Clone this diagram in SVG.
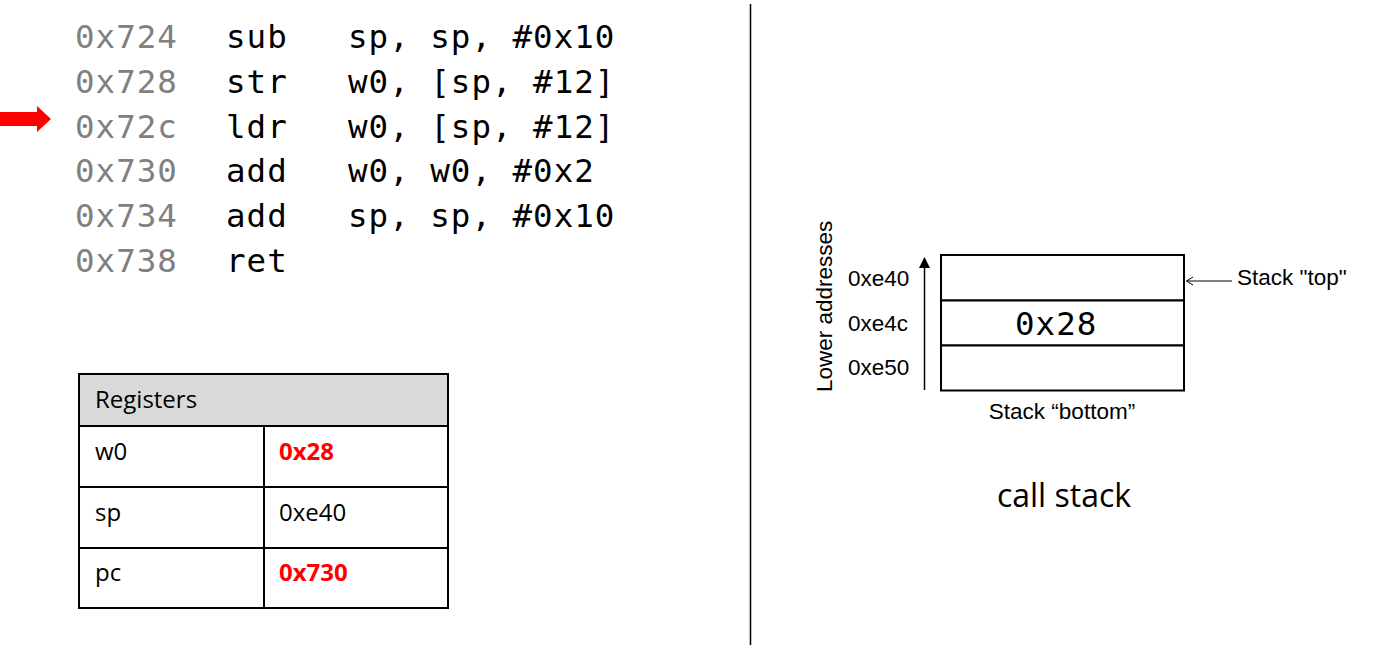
<svg xmlns="http://www.w3.org/2000/svg" width="1385" height="646" viewBox="0 0 1385 646">
<style>
.code{font-family:"DejaVu Sans Mono","Liberation Mono",monospace;font-size:32.5px;letter-spacing:1px;fill:#000}
.addr{fill:#808080}
.tbl{font-family:"Open Sans","Liberation Sans",sans-serif;font-size:24px;fill:#000}
.red{fill:#ff0000;font-weight:bold}
.ar{font-family:"Liberation Sans",Arial,sans-serif;font-size:22.5px;fill:#000}
.cell{fill:#fff;stroke:#000;stroke-width:2}
</style>
<rect width="1385" height="646" fill="#fff"/>
<g id="code">
<text class="code addr" x="75" y="48">0x724</text><text class="code" x="226" y="48">sub</text><text class="code" x="348" y="48">sp, sp, #0x10</text>
<text class="code addr" x="75" y="93">0x728</text><text class="code" x="226" y="93">str</text><text class="code" x="348" y="93">w0, [sp, #12]</text>
<text class="code addr" x="75" y="137.5">0x72c</text><text class="code" x="226" y="137.5">ldr</text><text class="code" x="348" y="137.5">w0, [sp, #12]</text>
<text class="code addr" x="75" y="182">0x730</text><text class="code" x="226" y="182">add</text><text class="code" x="348" y="182">w0, w0, #0x2</text>
<text class="code addr" x="75" y="227">0x734</text><text class="code" x="226" y="227">add</text><text class="code" x="348" y="227">sp, sp, #0x10</text>
<text class="code addr" x="75" y="272">0x738</text><text class="code" x="226" y="272">ret</text>
</g>
<g id="pc-arrow">
<polygon points="0,112 37,112 37,106 51,119 37,132 37,126 0,126" fill="#ff0000"/>
</g>
<g id="registers">
<rect x="79" y="374" width="369" height="52" fill="#d9d9d9" stroke="#000" stroke-width="2"/>
<rect class="cell" x="79" y="426" width="185" height="61"/>
<rect class="cell" x="264" y="426" width="184" height="61"/>
<rect class="cell" x="79" y="487" width="185" height="61"/>
<rect class="cell" x="264" y="487" width="184" height="61"/>
<rect class="cell" x="79" y="548" width="185" height="60"/>
<rect class="cell" x="264" y="548" width="184" height="60"/>
<text class="tbl" x="95" y="408">Registers</text>
<text class="tbl" x="95" y="460">w0</text>
<text class="tbl red" x="279" y="460">0x28</text>
<text class="tbl" x="95" y="521">sp</text>
<text class="tbl" x="279" y="521">0xe40</text>
<text class="tbl" x="95" y="581">pc</text>
<text class="tbl red" x="279" y="581">0x730</text>
</g>
<g id="divider">
<line x1="750.5" y1="4" x2="750.5" y2="645" stroke="#000" stroke-width="1.5"/>
</g>
<g id="stack">
<rect class="cell" x="941" y="255" width="243" height="45.5"/>
<rect class="cell" x="941" y="300.5" width="243" height="45"/>
<rect class="cell" x="941" y="345.5" width="243" height="45"/>
<text class="code" x="1015" y="335">0x28</text>
<text class="ar" x="848" y="285.5">0xe40</text>
<text class="ar" x="848" y="330.5">0xe4c</text>
<text class="ar" x="848" y="375">0xe50</text>
<text class="ar" x="1062" y="419" text-anchor="middle">Stack “bottom”</text>
<text class="ar" x="1237" y="285">Stack "top"</text>
<text class="ar" transform="translate(831.5,392) rotate(-90)">Lower addresses</text>
<text class="tbl" x="1064" y="507" text-anchor="middle" style="font-size:32px">call stack</text>
</g>
<g id="connectors" fill="none" stroke="#000">
<line x1="924.5" y1="390" x2="924.5" y2="267" stroke-width="1.5"/>
<polygon points="919,268 930,268 924.5,257" fill="#000" stroke="none"/>
<line x1="1232" y1="281" x2="1186.5" y2="281" stroke-width="1"/>
<polyline points="1193,277 1186.5,281 1193,285" stroke-width="1"/>
</g>
</svg>
